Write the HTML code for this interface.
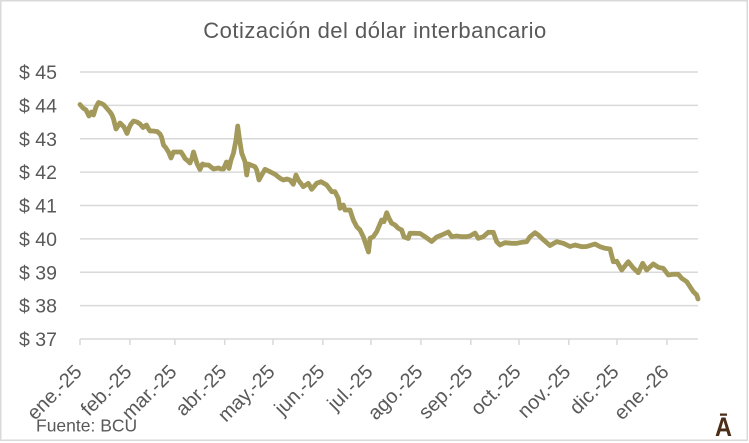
<!DOCTYPE html>
<html>
<head>
<meta charset="utf-8">
<style>
  html, body { margin: 0; padding: 0; background: #ffffff; }
  svg { display: block; }
  text { font-family: "Liberation Sans", Arial, sans-serif; fill: #595959; }
</style>
</head>
<body>
<svg width="749" height="443" viewBox="0 0 749 443" xmlns="http://www.w3.org/2000/svg">
  <rect x="0" y="0" width="749" height="443" fill="#ffffff"/>
  <rect x="0.75" y="0.75" width="746.5" height="439.5" fill="#ffffff" stroke="#d9d9d9" stroke-width="1.5"/>

  <!-- Title -->
  <text x="375" y="38" font-size="22" letter-spacing="0.5" text-anchor="middle">Cotización del dólar interbancario</text>

  <!-- Gridlines -->
  <g stroke="#d9d9d9" stroke-width="1.5">
    <line x1="80" y1="72" x2="698" y2="72"/>
    <line x1="80" y1="105.4" x2="698" y2="105.4"/>
    <line x1="80" y1="138.8" x2="698" y2="138.8"/>
    <line x1="80" y1="172.1" x2="698" y2="172.1"/>
    <line x1="80" y1="205.5" x2="698" y2="205.5"/>
    <line x1="80" y1="238.9" x2="698" y2="238.9"/>
    <line x1="80" y1="272.3" x2="698" y2="272.3"/>
    <line x1="80" y1="305.6" x2="698" y2="305.6"/>
    <line x1="80" y1="339" x2="698" y2="339"/>
    <!-- ticks -->
    <line x1="80" y1="339" x2="80" y2="345"/>
    <line x1="129.9" y1="339" x2="129.9" y2="345"/>
    <line x1="174.9" y1="339" x2="174.9" y2="345"/>
    <line x1="224.7" y1="339" x2="224.7" y2="345"/>
    <line x1="273" y1="339" x2="273" y2="345"/>
    <line x1="322.8" y1="339" x2="322.8" y2="345"/>
    <line x1="371" y1="339" x2="371" y2="345"/>
    <line x1="420.9" y1="339" x2="420.9" y2="345"/>
    <line x1="470.8" y1="339" x2="470.8" y2="345"/>
    <line x1="519" y1="339" x2="519" y2="345"/>
    <line x1="568.8" y1="339" x2="568.8" y2="345"/>
    <line x1="617" y1="339" x2="617" y2="345"/>
    <line x1="667" y1="339" x2="667" y2="345"/>
  </g>

  <!-- Y labels -->
  <g font-size="19.5" text-anchor="end">
    <text x="57" y="79">$ 45</text>
    <text x="57" y="112.4">$ 44</text>
    <text x="57" y="145.8">$ 43</text>
    <text x="57" y="179.1">$ 42</text>
    <text x="57" y="212.5">$ 41</text>
    <text x="57" y="245.9">$ 40</text>
    <text x="57" y="279.3">$ 39</text>
    <text x="57" y="312.6">$ 38</text>
    <text x="57" y="346">$ 37</text>
  </g>

  <!-- X labels -->
  <g font-size="20" text-anchor="end">
    <text transform="translate(83,373) rotate(-45)">ene.-25</text>
    <text transform="translate(132.9,373) rotate(-45)">feb.-25</text>
    <text transform="translate(177.9,373) rotate(-45)">mar.-25</text>
    <text transform="translate(227.7,373) rotate(-45)">abr.-25</text>
    <text transform="translate(276,373) rotate(-45)">may.-25</text>
    <text transform="translate(325.8,373) rotate(-45)">jun.-25</text>
    <text transform="translate(374,373) rotate(-45)">jul.-25</text>
    <text transform="translate(423.9,373) rotate(-45)">ago.-25</text>
    <text transform="translate(473.8,373) rotate(-45)">sep.-25</text>
    <text transform="translate(522,373) rotate(-45)">oct.-25</text>
    <text transform="translate(571.8,373) rotate(-45)">nov.-25</text>
    <text transform="translate(620,373) rotate(-45)">dic.-25</text>
    <text transform="translate(670,373) rotate(-45)">ene.-26</text>
  </g>

  <!-- Series -->
  <polyline fill="none" stroke="#a2995a" stroke-width="4.8" stroke-linejoin="round" stroke-linecap="round"
    points="80,104.5 83,108 86,110 89,116 91.5,112 93.5,115 96,107 98.5,102.5 101.5,103.5 104,105 107,108.5 110,112 112,115 113.5,119 116,129 118,126 120,123 122,125 124,127 127,133.5 129,128 131,124 133.5,121 137,122 140,124 143,127.5 146.5,125 148,128 150,131 153,131 157,131.5 160,134 161.5,137 163.5,145 166,148 168.5,152 171,158 173.5,152 177,152 181,152 183,155 185,158.5 188,161 190,163 192,158 193.5,152 195,157 197,163.5 200,169.5 202.5,164 205,165 208.5,165 211,167 213.5,169 216,168.5 218.5,168 221,169 223.5,169 226.5,162 229,168.5 231,160 233.5,153 236,140 237.7,126 239.3,138 241.7,153 245,161.7 246.7,175 248.3,164 252,165.5 255,166.7 256.7,170 259,180 261.7,175 265,169.3 270,171.7 275,174.3 280,178.3 283.3,180 287,179 290,180 293.3,184.3 296,175 298.3,180 303.3,186.7 308.3,183.3 311.7,189.3 316.7,183.3 321,181.7 326.7,185 331.7,191.7 335,191.7 338.3,198.3 340,208.3 343.3,205 345,210 350,210 353.3,220 356.7,226.7 360,230 363.3,236.7 366.7,246.7 368.5,252 370,238.3 373.3,236.7 376.7,231.7 381.7,220 384,221.7 386.7,212.7 389,218.3 391.7,223.3 395,225 398.3,228.3 401.7,230 404,237 408.3,238.5 410,233.3 415,233.3 420,233.5 425,236.7 431.7,241.5 436.7,237 441.7,235 448.3,232 451.7,236.7 456.7,236 461.7,236.7 466.7,236.7 470,236 475,233 478.3,238.3 483.3,236.7 488.3,232.3 493.3,232.3 496.7,241.7 500,245 505,242.7 511.7,243.3 516.7,243.3 521.7,242.3 526.7,241.7 530,236.7 535,232.7 538.3,235 541.7,238.3 546.7,242.7 550,245.5 556.7,241.7 563.3,243.3 570,246.5 575,245 581.7,246.7 586.7,246.5 595,244 600,246.7 605,248.3 610,249 613.3,261.7 616.7,261.2 621.7,270 628.3,261.7 633.3,268 638.3,272.7 642.7,263.3 646.7,270 653.3,264 658.3,267.3 663.3,268.3 668.3,275 673.3,274.3 678.3,274.3 681.7,278.3 686.7,281.7 690,286.7 693.3,291.7 696.7,295 698,299"/>

  <!-- Source -->
  <text x="36" y="431.5" font-size="17.5">Fuente: BCU</text>

  <!-- Logo -->
  <text transform="translate(723.5,436) scale(0.87,1)" font-size="27" font-weight="bold" text-anchor="middle" style="fill:#4b2d18">Ā</text>
</svg>
</body>
</html>
